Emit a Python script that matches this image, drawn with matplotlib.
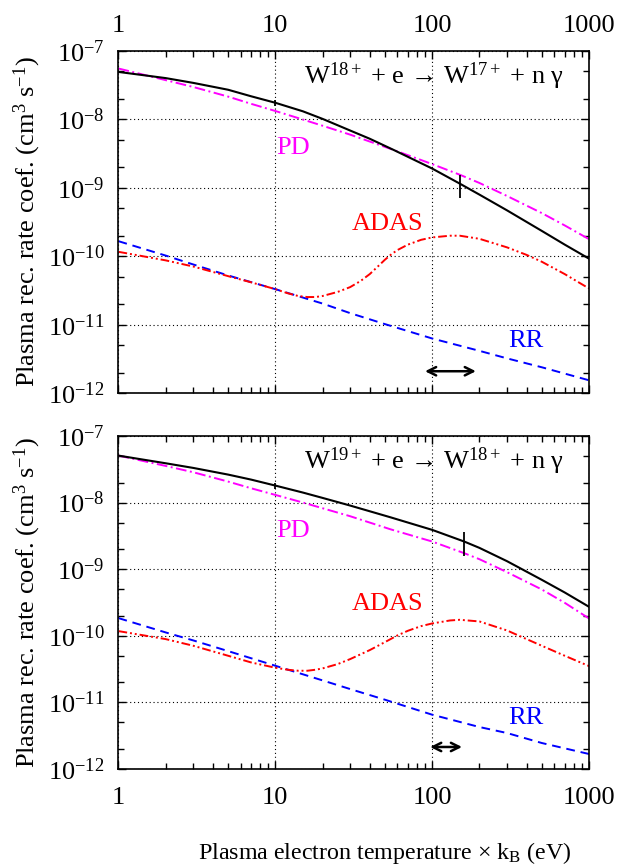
import numpy as np
import matplotlib
matplotlib.use("Agg")
import matplotlib.pyplot as plt
from matplotlib.ticker import LogLocator, NullFormatter

plt.rcParams['font.family'] = ['Liberation Serif', 'DejaVu Serif']
plt.rcParams['mathtext.fontset'] = 'custom'
plt.rcParams['mathtext.rm'] = 'Liberation Serif'
plt.rcParams['mathtext.it'] = 'Liberation Serif:italic'
plt.rcParams['mathtext.default'] = 'regular'
plt.rcParams['axes.unicode_minus'] = False

# ---------------- data (log10 of rate coefficient, cm^3 s^-1) ----------------
# Top panel: W18+ + e -> W17+
T_top_tot = [1, 2, 3, 5, 7, 10, 15, 20, 30, 40, 57, 100, 150, 200, 300, 500, 700, 1000]
lg_top_tot = [-7.31, -7.40, -7.47, -7.57, -7.665, -7.76, -7.885, -7.995, -8.165, -8.285,
              -8.45, -8.72, -8.94, -9.10, -9.33, -9.63, -9.83, -10.035]
T_top_pd = [1, 2, 3, 5, 7, 10, 15, 20, 30, 57, 100, 150, 200, 300, 500, 700, 1000]
lg_top_pd = [-7.26, -7.43, -7.53, -7.67, -7.775, -7.88, -8.005, -8.095, -8.225, -8.45,
             -8.655, -8.81, -8.93, -9.12, -9.37, -9.55, -9.75]
T_top_adas = [1, 2, 3, 5, 7, 10, 12, 14, 16, 18, 20, 25, 30, 35, 40, 45, 50, 55, 60, 70,
              85, 100, 130, 150, 200, 300, 400, 500, 700, 1000]
lg_top_adas = [-9.935, -10.06, -10.15, -10.29, -10.38, -10.48, -10.54, -10.58, -10.595,
               -10.595, -10.58, -10.52, -10.45, -10.36, -10.26, -10.15, -10.05, -9.97,
               -9.91, -9.83, -9.76, -9.725, -9.70, -9.70, -9.745, -9.87, -9.98, -10.08,
               -10.26, -10.47]
T_top_rr = [1, 2, 3, 5, 10, 20, 30, 50, 100, 200, 300, 500, 1000]
lg_top_rr = [-9.78, -9.99, -10.12, -10.28, -10.48, -10.69, -10.83, -10.99, -11.20, -11.38,
             -11.49, -11.62, -11.81]
err_top_T = [10, 150]
err_top_lo = [1.58e-8, 7.0e-10]
err_top_hi = [1.90e-8, 1.53e-9]
arrow_top_T = [90, 190]
arrow_top_y = 2.1e-12

# Bottom panel: W19+ + e -> W18+
T_bot_tot = [1, 2, 3, 5, 7, 10, 15, 20, 30, 54, 100, 160, 200, 300, 500, 700, 1000]
lg_bot_tot = [-7.295, -7.41, -7.48, -7.58, -7.655, -7.745, -7.85, -7.93, -8.045, -8.22,
              -8.41, -8.585, -8.68, -8.88, -9.16, -9.35, -9.565]
T_bot_pd = [1, 2, 3, 5, 7, 10, 15, 20, 30, 54, 100, 160, 200, 300, 500, 700, 1000]
lg_bot_pd = [-7.295, -7.45, -7.545, -7.685, -7.785, -7.885, -8.0, -8.085, -8.205, -8.40,
             -8.585, -8.76, -8.85, -9.045, -9.305, -9.505, -9.74]
T_bot_adas = [1, 2, 3, 5, 7, 10, 12, 14, 16, 18, 20, 25, 30, 40, 50, 60, 70, 85, 100, 130,
              150, 200, 300, 400, 500, 700, 1000]
lg_bot_adas = [-9.93, -10.05, -10.15, -10.30, -10.40, -10.48, -10.51, -10.525, -10.525,
               -10.51, -10.49, -10.425, -10.35, -10.215, -10.095, -9.995, -9.925, -9.855,
               -9.815, -9.77, -9.76, -9.785, -9.92, -10.05, -10.15, -10.30, -10.455]
T_bot_rr = [1, 2, 3, 5, 10, 20, 30, 50, 100, 200, 300, 500, 1000]
lg_bot_rr = [-9.735, -9.95, -10.07, -10.23, -10.45, -10.67, -10.80, -10.96, -11.185, -11.37,
             -11.46, -11.61, -11.775]
err_bot_T = [10, 159]
err_bot_lo = [1.62e-8, 1.55e-9]
err_bot_hi = [1.95e-8, 3.59e-9]
arrow_bot_T = [97, 155]
arrow_bot_y = 2.14e-12

x_ticks = [1, 10, 100, 1000]
x_ticklabels = ['1', '10', '100', '1000']
y_ticks = [1e-12, 1e-11, 1e-10, 1e-9, 1e-8, 1e-7]
y_ticklabels = [r'10$^{-12}$', r'10$^{-11}$', r'10$^{-10}$', r'10$^{-9}$', r'10$^{-8}$', r'10$^{-7}$']

titles = [r'W$^{18+}$ + e → W$^{17+}$ + n γ', r'W$^{19+}$ + e → W$^{18+}$ + n γ']

FS = 19

fig = plt.figure(figsize=(6.21, 8.65), dpi=100)
ax_top = fig.add_axes([0.1908, 0.5453, 0.7577, 0.3961])
ax_bot = fig.add_axes([0.1908, 0.1110, 0.7577, 0.3850])

panels = [
    (ax_top, T_top_tot, lg_top_tot, T_top_pd, lg_top_pd, T_top_adas, lg_top_adas,
     T_top_rr, lg_top_rr, err_top_T, err_top_lo, err_top_hi, arrow_top_T, arrow_top_y,
     titles[0], True),
    (ax_bot, T_bot_tot, lg_bot_tot, T_bot_pd, lg_bot_pd, T_bot_adas, lg_bot_adas,
     T_bot_rr, lg_bot_rr, err_bot_T, err_bot_lo, err_bot_hi, arrow_bot_T, arrow_bot_y,
     titles[1], False),
]

for (ax, Tt, lt, Tp, lp, Ta, la, Tr, lr, eT, elo, ehi, aT, ay, title, top) in panels:
    ax.set_xscale('log')
    ax.set_yscale('log')
    ax.set_xlim(1, 1000)
    ax.set_ylim(1e-12, 1e-7)

    ax.plot(Tr, 10 ** np.array(lr), color='#0000ff', lw=1.4, linestyle=(0, (4.5, 3)))
    ax.plot(Ta, 10 ** np.array(la), color='#ff0000', lw=1.4,
            linestyle=(0, (4.5, 1.5, 1, 1.5, 1, 1.5)))
    ax.plot(Tp, 10 ** np.array(lp), color='#ff00ff', lw=1.4,
            linestyle=(0, (5.5, 1.8, 1, 1.8)))
    ax.plot(Tt, 10 ** np.array(lt), color='black', lw=1.5)
    ax.vlines(eT, elo, ehi, color='black', lw=1.3)
    ax.annotate('', xy=(aT[1], ay), xytext=(aT[0], ay),
                arrowprops=dict(arrowstyle='<->', color='black', lw=1.8,
                                mutation_scale=15, shrinkA=0, shrinkB=0))

    ax.grid(True, which='major', color='black', linestyle=(0, (1, 2.5)), linewidth=0.8)
    ax.set_xticks(x_ticks)
    ax.set_xticklabels(x_ticklabels)
    ax.set_yticks(y_ticks)
    ax.set_yticklabels(y_ticklabels)
    ax.xaxis.set_minor_locator(LogLocator(base=10, subs=np.arange(2, 10)))
    ax.yaxis.set_minor_locator(LogLocator(base=10, subs=(2.0, 5.0)))
    ax.xaxis.set_minor_formatter(NullFormatter())
    ax.yaxis.set_minor_formatter(NullFormatter())
    ax.tick_params(which='both', direction='in', top=True, right=True, width=1.0)
    ax.tick_params(which='major', length=6)
    ax.tick_params(which='minor', length=4.5)
    ax.tick_params(axis='y', which='major', labelsize=FS, pad=10)
    if top:
        ax.tick_params(axis='x', which='major', labelsize=FS, labeltop=True,
                       labelbottom=False, pad=10)
    else:
        ax.tick_params(axis='x', which='major', labelsize=FS, pad=13)
    for s in ax.spines.values():
        s.set_linewidth(1.2)

    ax.set_ylabel(r'Plasma rec. rate coef. (cm$^3$ s$^{-1}$)', fontsize=FS)
    ax.yaxis.set_label_coords(-0.160, 0.5)

    ax.text(15.2, 10 ** (-7.38), title, fontsize=FS, ha='left', va='center')
    ax.text(10.1, 10 ** (-8.42), 'PD', color='#ff00ff', fontsize=FS, ha='left', va='center')
    ax.text(30.8, 10 ** (-9.53), 'ADAS', color='#ff0000', fontsize=FS, ha='left', va='center')
    ax.text(305, 10 ** (-11.24), 'RR', color='#0000ff', fontsize=FS, ha='left', va='center')

fig.text(0.619, 1 - 853 / 865, r'Plasma electron temperature × k$_{B}$ (eV)',
         fontsize=17.3, ha='center', va='center')

fig.savefig('out.png', dpi=100)
